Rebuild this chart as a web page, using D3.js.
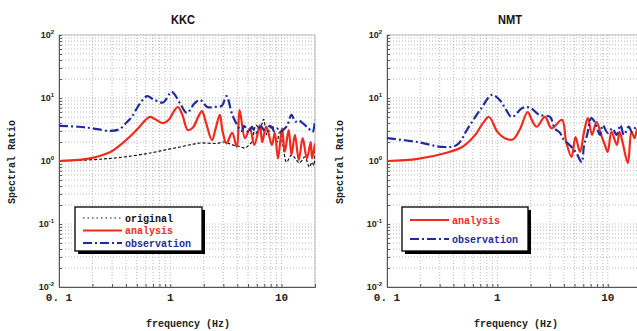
<!DOCTYPE html>
<html>
<head>
<meta charset="utf-8">
<script src="https://cdn.jsdelivr.net/npm/d3@7"></script>
<style>
  body { margin: 0; background: #fff; }
  svg { display: block; }
  .grid line { stroke: #a8a8a8; stroke-dasharray: 1,2; stroke-width: 0.8; }
  .axis path, .axis line { stroke: #555; }
</style>
</head>
<body>
<svg id="chart" width="637" height="331"></svg>
<script>
// frequency (Hz), spectral ratio
const kkcOriginal = [
  [0.1, 1.0], [0.2, 1.05], [0.29, 1.1], [0.45, 1.2], [0.66, 1.34], [0.9, 1.5],
  [1.22, 1.67], [1.6, 1.85], [1.86, 1.93], [2.6, 1.9], [3.1, 2.0], [3.6, 1.8],
  [4.2, 1.7], [4.7, 1.6], [5.1, 1.8], [5.4, 2.0], [5.9, 3.7], [6.4, 3.2], [6.9, 4.6],
  [7.4, 2.6], [8.2, 3.7], [9.1, 2.0], [9.6, 2.9], [10.3, 1.8], [11.1, 0.96],
  [12.3, 1.25], [13.3, 1.1], [14.5, 0.93], [16.2, 1.16], [17.8, 0.8],
  [18.8, 0.96], [19.5, 0.85], [20, 1.6]
];
const kkcAnalysis = [
  [0.1, 1.0], [0.15, 1.04], [0.2, 1.12], [0.29, 1.39], [0.35, 1.75], [0.43, 2.4],
  [0.53, 3.5], [0.6, 4.5], [0.66, 5.0], [0.72, 4.7], [0.86, 4.0], [0.98, 4.6],
  [1.08, 6.2], [1.17, 7.2], [1.28, 5.5], [1.44, 3.1], [1.6, 3.4], [1.8, 5.2],
  [1.93, 6.2], [2.1, 4.0], [2.37, 2.15], [2.55, 3.2], [2.79, 5.4], [2.95, 3.0],
  [3.2, 1.9], [3.6, 2.8], [3.97, 1.67], [4.2, 6.4], [4.7, 2.3], [5.2, 3.3],
  [5.7, 1.8], [6.4, 3.7], [6.7, 2.0], [7.3, 3.5], [8.2, 1.8], [8.7, 2.8],
  [9.3, 1.1], [10.1, 3.3], [10.7, 1.4], [11.6, 3.1], [12.3, 1.25], [13.2, 2.6],
  [14.3, 1.04], [15.5, 2.3], [16.9, 1.1], [18.3, 2.0], [18.8, 1.1], [20, 1.9]
];
const kkcObservation = [
  [0.1, 3.6], [0.15, 3.5], [0.2, 3.3], [0.29, 3.0], [0.35, 3.2], [0.4, 4.0],
  [0.45, 5.0], [0.53, 8.0], [0.62, 10.7], [0.7, 9.6], [0.86, 8.5], [1.03, 12.5],
  [1.22, 8.3], [1.41, 5.8], [1.66, 8.3], [1.86, 9.3], [2.15, 7.2], [2.5, 7.2],
  [2.9, 7.5], [3.2, 10.7], [3.6, 5.5], [4.0, 3.7], [4.2, 3.2], [4.4, 3.0],
  [4.6, 3.6], [4.8, 3.3], [5.1, 2.8], [5.4, 3.5], [5.7, 3.0], [5.9, 2.8],
  [6.2, 3.3], [6.6, 3.5], [7.0, 3.0], [7.4, 2.9], [7.8, 3.6], [8.2, 3.4],
  [8.6, 3.0], [9.1, 3.3], [9.7, 2.9], [10.3, 3.1], [11.2, 3.6], [12.3, 5.4],
  [13.3, 4.2], [14.2, 4.4], [15.5, 4.0], [17.5, 3.3], [19, 2.9], [20, 4.5]
];

const nmtAnalysis = [
  [0.1, 1.0], [0.19, 1.08], [0.34, 1.34], [0.48, 1.67], [0.63, 2.6], [0.74, 4.0],
  [0.84, 5.0], [1.0, 2.9], [1.17, 2.3], [1.38, 2.2], [1.6, 3.2], [1.88, 6.0],
  [2.05, 4.5], [2.27, 3.5], [2.7, 5.0], [3.1, 3.3], [3.85, 4.5], [4.2, 2.0],
  [4.7, 1.16], [5.1, 2.4], [5.6, 1.4], [6.1, 2.9], [6.6, 4.8], [7.2, 2.6],
  [7.9, 4.2], [8.7, 2.6], [9.4, 1.8], [10, 1.4], [10.8, 2.9], [12.1, 1.8],
  [12.8, 2.9], [13.6, 2.0], [15.2, 0.93], [16.4, 2.9], [17.5, 2.3], [18.5, 3.2],
  [20, 2.2]
];
const nmtObservation = [
  [0.1, 2.3], [0.19, 2.0], [0.32, 1.67], [0.43, 1.8], [0.54, 3.3], [0.72, 7.0],
  [0.89, 11.2], [1.05, 9.3], [1.17, 7.0], [1.35, 5.0], [1.7, 7.0], [1.98, 7.0],
  [2.4, 5.4], [3.0, 5.0], [3.3, 3.3], [3.7, 2.8], [3.9, 2.3], [4.5, 1.8],
  [4.8, 1.6], [5.2, 1.34], [5.8, 0.96], [6.1, 1.8], [6.5, 2.6], [7.1, 4.8],
  [7.6, 4.2], [8.5, 2.6], [9.0, 3.7], [10, 2.8], [11, 3.3], [12, 2.6],
  [13, 3.7], [14, 2.6], [15.5, 3.5], [16.5, 2.9], [18, 3.4], [20, 2.8]
];

const xDomain = [0.1, 20];
const yDomain = [0.01, 100];
const xTickLabels = [[0.1, "0. 1"], [1, "1"], [10, "10"]];
const yDecades = [0.01, 0.1, 1, 10, 100];
const yExponents = ["-2", "-1", "0", "1", "2"];

const styles = {
  original: { color: "#111", width: 1.2, dash: "3,2", label: "original" },
  analysis: { color: "#f22a1c", width: 2.2, dash: null, label: "analysis" },
  observation: { color: "#1f2c9a", width: 2.2, dash: "9,3,2,3", label: "observation" }
};

const panels = [
  { title: "KKC", left: 59, right: 315, series: [["original", kkcOriginal], ["analysis", kkcAnalysis], ["observation", kkcObservation]],
    legend: { x: 75, y: 207, w: 127, h: 44, rows: ["original", "analysis", "observation"] } },
  { title: "NMT", left: 387, right: 641, series: [["analysis", nmtAnalysis], ["observation", nmtObservation]],
    legend: { x: 402, y: 207, w: 126, h: 44, rows: ["analysis", "observation"] } }
];
const plotTop = 35, plotBottom = 287;

const svg = d3.select("#chart");

panels.forEach(p => {
  const x = d3.scaleLog().domain(xDomain).range([p.left, p.right]);
  const y = d3.scaleLog().domain(yDomain).range([plotBottom, plotTop]);
  const g = svg.append("g");

  // dotted grid at every minor position
  const grid = g.append("g").attr("class", "grid");
  grid.selectAll(".vx").data(x.ticks()).join("line")
    .attr("x1", d => x(d)).attr("x2", d => x(d)).attr("y1", plotTop).attr("y2", plotBottom);
  grid.selectAll(".hy").data(y.ticks()).join("line")
    .attr("x1", p.left).attr("x2", p.right).attr("y1", d => y(d)).attr("y2", d => y(d));

  // frame
  g.append("rect").attr("x", p.left).attr("y", plotTop)
    .attr("width", p.right - p.left).attr("height", plotBottom - plotTop)
    .attr("fill", "none").attr("stroke", "#bbb").attr("stroke-width", 1);

  // axes
  const xAxis = d3.axisBottom(x).tickValues(x.ticks()).tickSize(-3).tickFormat("");
  g.append("g").attr("class", "axis").attr("transform", `translate(0,${plotBottom})`).call(xAxis);
  const yAxis = d3.axisLeft(y).tickValues(y.ticks()).tickSize(-3).tickFormat("");
  g.append("g").attr("class", "axis").attr("transform", `translate(${p.left},0)`).call(yAxis);

  g.selectAll(".xlab").data(xTickLabels).join("text")
    .attr("x", d => x(d[0])).attr("y", plotBottom + 14)
    .attr("text-anchor", "middle")
    .style("font-family", "'Liberation Mono', monospace").style("font-weight", "bold")
    .style("font-size", "11px").attr("fill", "#222")
    .text(d => d[1]);

  const ylab = g.selectAll(".ylab").data(yDecades).join("text")
    .attr("x", p.left - 5).attr("y", d => y(d) + 3)
    .attr("text-anchor", "end")
    .style("font-family", "'Liberation Sans', Arial, sans-serif").style("font-weight", "bold")
    .style("font-size", "9px").attr("fill", "#222");
  ylab.append("tspan").text("10");
  ylab.append("tspan").attr("dy", -4).style("font-size", "6px").text((d, i) => yExponents[i]);

  // titles
  const cx = (p.left + p.right) / 2 - 4;
  g.append("text").attr("x", cx).attr("y", 24)
    .attr("text-anchor", "middle")
    .style("font-family", "'Liberation Sans Narrow', 'Liberation Sans', sans-serif")
    .style("font-weight", "bold").style("font-size", "13px").attr("fill", "#111")
    .attr("transform", `translate(${cx},0) scale(0.85,1) translate(${-cx},0)`)
    .text(p.title);
  g.append("text").attr("x", p.left + 129).attr("y", 327)
    .attr("text-anchor", "middle")
    .style("font-family", "'Liberation Mono', monospace").style("font-weight", "bold")
    .style("font-size", "10px").attr("fill", "#222")
    .text("frequency (Hz)");
  g.append("text")
    .attr("transform", `translate(${p.left - 44},162) rotate(-90)`)
    .attr("text-anchor", "middle")
    .style("font-family", "'Liberation Mono', monospace").style("font-weight", "bold")
    .style("font-size", "10px").attr("fill", "#222")
    .text("Spectral Ratio");

  // curves
  const line = d3.line().x(d => x(d[0])).y(d => y(d[1])).curve(d3.curveCatmullRom.alpha(0.5));
  const clipId = "clip" + p.title;
  svg.append("clipPath").attr("id", clipId).append("rect")
    .attr("x", p.left).attr("y", plotTop).attr("width", p.right - p.left).attr("height", plotBottom - plotTop);
  p.series.forEach(([key, data]) => {
    const s = styles[key];
    g.append("path").datum(data)
      .attr("clip-path", `url(#${clipId})`)
      .attr("fill", "none").attr("stroke", s.color)
      .attr("stroke-width", s.width)
      .attr("stroke-dasharray", s.dash)
      .attr("stroke-linejoin", "round")
      .attr("d", line);
  });

  // legend box with shadow
  const L = p.legend;
  const lg = g.append("g");
  lg.append("rect").attr("x", L.x + 3).attr("y", L.y + 3).attr("width", L.w).attr("height", L.h).attr("fill", "#000");
  lg.append("rect").attr("x", L.x).attr("y", L.y).attr("width", L.w).attr("height", L.h)
    .attr("fill", "#fff").attr("stroke", "#000").attr("stroke-width", 1.3);
  const rowGap = L.rows.length === 3 ? 12.5 : 19;
  const row0 = L.rows.length === 3 ? L.y + 11 : L.y + 13;
  L.rows.forEach((key, i) => {
    const s = styles[key];
    const ry = row0 + i * rowGap;
    lg.append("line").attr("x1", L.x + 8).attr("x2", L.x + 47).attr("y1", ry).attr("y2", ry)
      .attr("stroke", s.color).attr("stroke-width", key === "original" ? 1.2 : 1.8)
      .attr("stroke-dasharray", key === "original" ? "1.5,3" : s.dash);
    lg.append("text").attr("x", L.x + 50).attr("y", ry + 3.5)
      .style("font-family", "'Liberation Mono', monospace").style("font-weight", "bold")
      .style("font-size", "10px").attr("fill", s.color)
      .text(s.label);
  });
});
</script>
</body>
</html>
